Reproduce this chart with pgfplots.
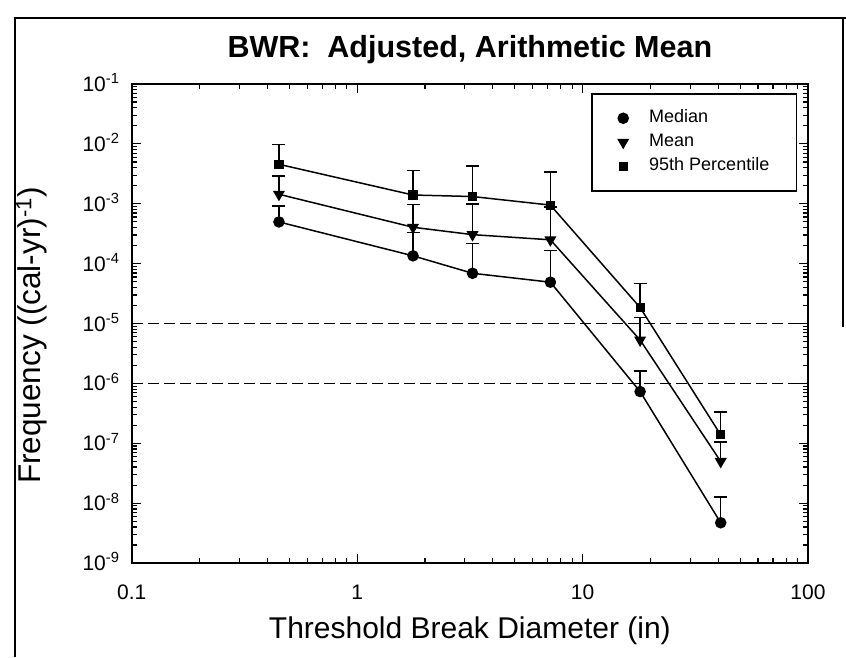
\documentclass[border=0pt]{standalone}
\usepackage{fontspec}
\setmainfont{Liberation Sans}
\usepackage{pgfplots}
\pgfplotsset{compat=1.18}
\begin{document}
\begin{tikzpicture}[x=1pt,y=1pt]
\path[use as bounding box] (0,0) rectangle (846,657);
\draw[line width=2.2pt] (15,0) -- (15,639) -- (846,639);
\draw[line width=2pt] (843,639) -- (843,330);
\begin{axis}[
  at={(131.7pt,94pt)}, anchor=south west,
  scale only axis, width=676.3pt, height=479pt,
  xmode=log, ymode=log,
  xmin=0.1, xmax=100, ymin=1e-9, ymax=1e-1,
  xtick={0.1,1,10,100}, xticklabels={0.1,1,10,100},
  ytick={1e-9,1e-8,1e-7,1e-6,1e-5,1e-4,1e-3,1e-2,1e-1},
  yticklabels={10\textsuperscript{-9},10\textsuperscript{-8},10\textsuperscript{-7},10\textsuperscript{-6},10\textsuperscript{-5},10\textsuperscript{-4},10\textsuperscript{-3},10\textsuperscript{-2},10\textsuperscript{-1}},
  axis line style={line width=2pt},
  tick align=inside,
  major tick length=9pt, minor tick length=5pt,
  every tick/.style={black, line width=1.2pt},
  tick label style={font=\fontsize{21}{21}\selectfont},
  xticklabel style={anchor=base, yshift=-36pt},
  yticklabel style={anchor=base east, inner sep=0pt, xshift=-12pt, yshift=-7.5pt},
  title={BWR:\ \ Adjusted, Arithmetic Mean},
  title style={font=\fontsize{30.5}{30.5}\selectfont\bfseries, at={(axis description cs:0.5,1)}, anchor=base, yshift=21pt},
  xlabel={Threshold Break Diameter (in)},
  ylabel={Frequency ((cal-yr)\textsuperscript{-1})},
  xlabel style={font=\fontsize{30}{30}\selectfont, at={(axis description cs:0.5,0)}, anchor=base, yshift=-75pt},
  ylabel style={font=\fontsize{31.5}{31.5}\selectfont, at={(axis description cs:-0.148,0.475)}, anchor=center},
  legend style={at={(axis description cs:0.9838,0.9812)}, anchor=north east, draw=black, line width=1.5pt,
    font=\fontsize{18}{20}\selectfont, inner xsep=26pt, inner ysep=15pt, row sep=5pt,
    nodes={inner sep=1pt, text height=13pt, text depth=4pt},
    /tikz/every odd column/.append style={column sep=20pt}},
  legend cell align=left,
  every axis plot/.append style={black, line width=1.5pt},
  error bars/error bar style={black, line width=1.5pt},
  error bars/error mark options={black, line width=1.5pt, mark size=6.5pt, rotate=90},
]
\addlegendimage{only marks, mark=*, mark size=5pt, black}
\addlegendimage{only marks, mark=triangle*, mark size=5.5pt, mark options={rotate=180}, black}
\addlegendimage{only marks, mark=square*, mark size=3.8pt, black}
\legend{Median, Mean, 95th Percentile}

\addplot[black, line width=1.6pt, dash pattern=on 11pt off 5pt, forget plot] coordinates {(0.1,1e-5) (100,1e-5)};
\addplot[black, line width=1.6pt, dash pattern=on 11pt off 5pt, forget plot] coordinates {(0.1,1e-6) (100,1e-6)};

% Median
\addplot[forget plot, mark=*, mark size=5pt, mark options={solid, fill=black},
  error bars/.cd, y dir=plus, y explicit] coordinates {
  (0.45,4.97e-4) +- (0,4.23e-4)
  (1.77,1.35e-4) +- (0,1.95e-4)
  (3.25,6.9e-5) +- (0,1.46e-4)
  (7.2,4.9e-5) +- (0,1.16e-4)
  (18,7.3e-7) +- (0,8.7e-7)
  (41,4.7e-9) +- (0,7.9e-9)
};
% Mean
\addplot[forget plot, mark=triangle*, mark size=5.5pt, mark options={solid, fill=black, rotate=180},
  error bars/.cd, y dir=plus, y explicit] coordinates {
  (0.45,1.44e-3) +- (0,1.46e-3)
  (1.77,4.05e-4) +- (0,5.75e-4)
  (3.25,3.05e-4) +- (0,6.95e-4)
  (7.2,2.5e-4) +- (0,6.4e-4)
  (18,5.3e-6) +- (0,7.4e-6)
  (41,4.96e-8) +- (0,5.54e-8)
};
% 95th percentile
\addplot[forget plot, mark=square*, mark size=3.8pt, mark options={solid, fill=black},
  error bars/.cd, y dir=plus, y explicit] coordinates {
  (0.45,4.56e-3) +- (0,5.24e-3)
  (1.77,1.40e-3) +- (0,2.17e-3)
  (3.25,1.32e-3) +- (0,2.98e-3)
  (7.2,9.5e-4) +- (0,2.45e-3)
  (18,1.85e-5) +- (0,2.85e-5)
  (41,1.38e-7) +- (0,1.92e-7)
};
\end{axis}
\end{tikzpicture}
\end{document}
